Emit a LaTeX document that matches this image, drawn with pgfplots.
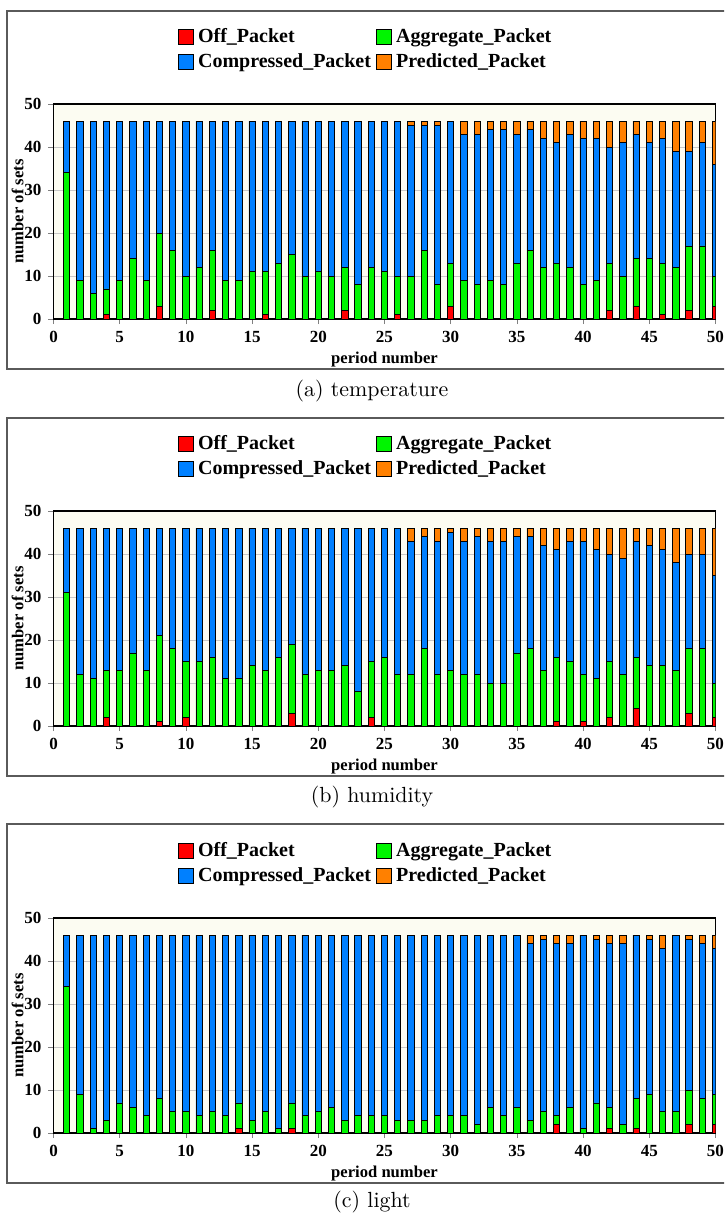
\documentclass[border=0pt]{standalone}
\usepackage{fontspec}
\usepackage{pgfplots}
\usepackage{pgfplotstable}
\pgfplotsset{compat=1.18}
\newfontfamily\tnr{Liberation Serif}

\definecolor{offc}{RGB}{255,0,0}
\definecolor{aggc}{RGB}{0,245,0}
\definecolor{compc}{RGB}{0,128,255}
\definecolor{predc}{RGB}{255,128,0}
\definecolor{plotbg}{RGB}{252,252,242}
\definecolor{gridc}{RGB}{200,200,200}
\definecolor{framec}{RGB}{90,90,90}

% x off agg comp pred  (comp = 46 - off - agg - pred)
\pgfplotstableread{
x off agg comp pred
1 0 34 12 0
2 0 9 37 0
3 0 6 40 0
4 1 6 39 0
5 0 9 37 0
6 0 14 32 0
7 0 9 37 0
8 3 17 26 0
9 0 16 30 0
10 0 10 36 0
11 0 12 34 0
12 2 14 30 0
13 0 9 37 0
14 0 9 37 0
15 0 11 35 0
16 1 10 35 0
17 0 13 33 0
18 0 15 31 0
19 0 10 36 0
20 0 11 35 0
21 0 10 36 0
22 2 10 34 0
23 0 8 38 0
24 0 12 34 0
25 0 11 35 0
26 1 9 36 0
27 0 10 35 1
28 0 16 29 1
29 0 8 37 1
30 3 10 33 0
31 0 9 34 3
32 0 8 35 3
33 0 9 35 2
34 0 8 36 2
35 0 13 30 3
36 0 16 28 2
37 0 12 30 4
38 0 13 28 5
39 0 12 31 3
40 0 8 34 4
41 0 9 33 4
42 2 11 27 6
43 0 10 31 5
44 3 11 29 3
45 0 14 27 5
46 1 12 29 4
47 0 12 27 7
48 2 15 22 7
49 0 17 24 5
50 3 7 26 10
}\tabTemp

\pgfplotstableread{
x off agg comp pred
1 0 31 15 0
2 0 12 34 0
3 0 11 35 0
4 2 11 33 0
5 0 13 33 0
6 0 17 29 0
7 0 13 33 0
8 1 20 25 0
9 0 18 28 0
10 2 13 31 0
11 0 15 31 0
12 0 16 30 0
13 0 11 35 0
14 0 11 35 0
15 0 14 32 0
16 0 13 33 0
17 0 16 30 0
18 3 16 27 0
19 0 12 34 0
20 0 13 33 0
21 0 13 33 0
22 0 14 32 0
23 0 8 38 0
24 2 13 31 0
25 0 16 30 0
26 0 12 34 0
27 0 12 31 3
28 0 18 26 2
29 0 12 31 3
30 0 13 32 1
31 0 12 31 3
32 0 12 32 2
33 0 10 33 3
34 0 10 33 3
35 0 17 27 2
36 0 18 26 2
37 0 13 29 4
38 1 15 25 5
39 0 15 28 3
40 1 11 31 3
41 0 11 30 5
42 2 13 25 6
43 0 12 27 7
44 4 12 27 3
45 0 14 28 4
46 0 14 27 5
47 0 13 25 8
48 3 15 22 6
49 0 18 22 6
50 2 8 25 11
}\tabHum

\pgfplotstableread{
x off agg comp pred
1 0 34 12 0
2 0 9 37 0
3 0 1 45 0
4 0 3 43 0
5 0 7 39 0
6 0 6 40 0
7 0 4 42 0
8 0 8 38 0
9 0 5 41 0
10 0 5 41 0
11 0 4 42 0
12 0 5 41 0
13 0 4 42 0
14 1 6 39 0
15 0 3 43 0
16 0 5 41 0
17 0 1 45 0
18 1 6 39 0
19 0 4 42 0
20 0 5 41 0
21 0 6 40 0
22 0 3 43 0
23 0 4 42 0
24 0 4 42 0
25 0 4 42 0
26 0 3 43 0
27 0 3 43 0
28 0 3 43 0
29 0 4 42 0
30 0 4 42 0
31 0 4 42 0
32 0 2 44 0
33 0 6 40 0
34 0 4 42 0
35 0 6 40 0
36 0 3 41 2
37 0 5 40 1
38 2 2 40 2
39 0 6 38 2
40 0 1 45 0
41 0 7 38 1
42 1 5 38 2
43 0 2 42 2
44 1 7 38 0
45 0 9 36 1
46 0 5 38 3
47 0 5 41 0
48 2 8 35 1
49 0 8 36 2
50 2 7 34 3
}\tabLight

\pgfplotsset{
  packets/.style={
    width=331pt, height=107.5pt, scale only axis,
    xmin=0, xmax=50, ymin=0, ymax=50,
    ybar stacked, bar width=3.15pt,
    xtick={0,5,...,50}, ytick={0,10,...,50},
    xtick pos=left, ytick pos=left,
    tick align=outside, major tick length=2.5pt,
    ymajorgrids, grid style={draw=gridc, line width=0.5pt},
    axis background/.style={fill=plotbg},
    axis line style={line width=0.6pt},
    ticklabel style={font=\tnr\bfseries\fontsize{8.5}{10}\selectfont},
    /pgf/number format/assume math mode=true,
    label style={font=\tnr\bfseries\fontsize{8.3}{10}\selectfont},
    xlabel={period number}, ylabel={number of sets},
    xlabel style={at={(0.5,-0.19)}, anchor=center},
    ylabel style={at={(-0.054,0.5)}, anchor=center},
    legend columns=2, legend cell align=left,
    legend style={at={(0.473,1.39)}, anchor=north, draw=none, fill=none,
      font=\tnr\bfseries\fontsize{10}{12}\selectfont,
      /tikz/every even column/.append style={column sep=0.5pt}},
    legend image code/.code={\draw[#1,draw=black,line width=0.5pt] (0pt,-3.8pt) rectangle (7.6pt,3.8pt);},
    every axis plot/.append style={draw=black, line width=0.4pt},
  }
}

\newcommand{\packetplots}[1]{%
  \addplot[fill=offc] table[x=x,y=off]{#1};
  \addplot[fill=aggc] table[x=x,y=agg]{#1};
  \addplot[fill=compc] table[x=x,y=comp]{#1};
  \addplot[fill=predc] table[x=x,y=pred]{#1};
  \legend{Off\_Packet, Aggregate\_Packet, Compressed\_Packet, Predicted\_Packet}
}

\begin{document}
\begin{tikzpicture}
  \path[use as bounding box, clip] (0pt,0pt) rectangle (362pt,-607pt);

  % frames round the three panels
  \draw[framec, line width=0.7pt] (3.5pt,-5.5pt) rectangle (375pt,-184.5pt);
  \draw[framec, line width=0.7pt] (3.5pt,-209pt) rectangle (375pt,-388pt);
  \draw[framec, line width=0.7pt] (3.5pt,-412pt) rectangle (375pt,-591.5pt);

  \begin{axis}[packets, at={(26.75pt,-159.5pt)}, anchor=south west]
    \packetplots{\tabTemp}
  \end{axis}

  \begin{axis}[packets, at={(26.75pt,-363pt)}, anchor=south west]
    \packetplots{\tabHum}
  \end{axis}

  \begin{axis}[packets, at={(26.75pt,-566.5pt)}, anchor=south west]
    \packetplots{\tabLight}
  \end{axis}

  \node[font=\fontsize{10.95}{13}\selectfont] at (186pt,-195.5pt) {(a) temperature};
  \node[font=\fontsize{10.95}{13}\selectfont] at (186pt,-398.5pt) {(b) humidity};
  \node[font=\fontsize{10.95}{13}\selectfont] at (186pt,-601pt) {(c) light};
\end{tikzpicture}
\end{document}
